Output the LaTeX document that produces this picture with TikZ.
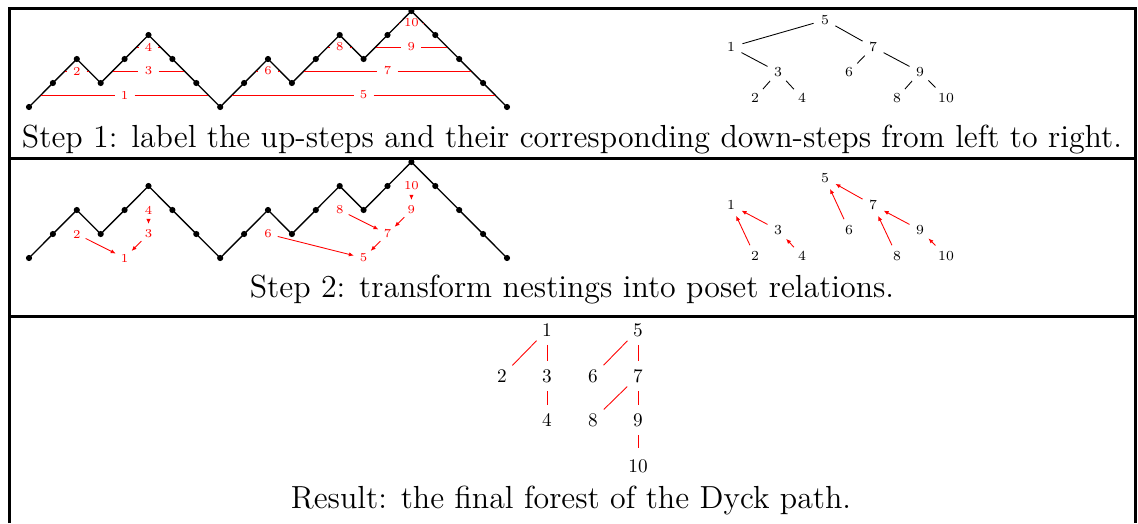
\documentclass[tikz,border=0pt]{standalone}
\usepackage{fontspec}
\newfontfamily\capfont{lmroman12-regular.otf}
\usetikzlibrary{calc,arrows.meta}

\begin{document}
\begin{tikzpicture}[x=0.52pt,y=-0.52pt,
    frame/.style={line width=1.56pt},
    dyck/.style={line width=0.7pt},
    arcline/.style={red, line width=0.45pt},
    lbl/.style={circle, inner sep=1.5pt, text=red, font=\fontsize{6.3}{7}\selectfont},
    tnum/.style={circle, inner sep=2pt, font=\fontsize{7.2}{8}\selectfont},
    rnum/.style={circle, inner sep=2.4pt, font=\fontsize{10}{12}\selectfont},
    rel/.style={red, line width=0.45pt, -{Latex[length=2.6pt,width=2.2pt]}},
    caption/.style={anchor=base, font=\capfont\fontsize{16.6}{19}\selectfont}]
  \useasboundingbox (0,0) rectangle (1138,523);

  % table rules
  \draw[frame] (9.5,523) -- (9.5,8) -- (1135.5,8) -- (1135.5,523);
  \draw[frame] (9.5,158) -- (1135.5,158);
  \draw[frame] (9.5,316) -- (1135.5,316);

  % the Dyck path, twice
  \foreach \h [count=\k from 0] in {0,1,2,1,2,3,2,1,0,1,2,1,2,3,2,3,4,3,2,1,0} {
    \coordinate (a\k) at (29+23.9*\k, 107-24*\h);
    \coordinate (b\k) at (29+23.9*\k, 258-24*\h);
  }
  \draw[dyck] (a0) \foreach \k in {1,...,20} { -- (a\k) };
  \draw[dyck] (b0) \foreach \k in {1,...,20} { -- (b\k) };
  \foreach \k in {0,...,20} {
    \fill (a\k) circle (1.6pt);
    \fill (b\k) circle (1.6pt);
  }
  \foreach \k [remember=\k as \j (initially 0)] in {1,...,20}
    \coordinate (m\k) at ($(a\j)!.5!(a\k)$);

  % step 1: up-steps and matching down-steps
  % step 2: labels moved down to the start of their up-step
  \foreach \i/\s/\t/\p in {1/1/8/0,2/2/3/1,3/4/7/3,4/5/6/4,5/9/20/8,
                           6/10/11/9,7/12/19/11,8/13/14/12,9/15/18/14,10/16/17/15} {
    \node[lbl] (la\i) at ($(m\s)!.5!(m\t)$) {\i};
    \draw[arcline] (m\s) -- (la\i) -- (m\t);
    \node[lbl] (lb\i) at (la\i |- b\p) {\i};
  }
  \foreach \c/\p in {2/1,3/1,4/3,6/5,7/5,8/7,9/7,10/9}
    \draw[rel] (lb\c) -- (lb\p);

  % trees on the right
  \foreach \n/\x/\y in {5/825/20,1/731/47,7/873/47,3/778/72,6/849/72,
                        9/920/72,2/755/98,4/802/98,8/897/98,10/946/98} {
    \node[tnum] (ta\n) at (\x,\y) {\n};
    \node[tnum] (tb\n) at (\x,\y+158) {\n};
  }
  \foreach \p/\c in {5/1,5/7,1/3,3/2,3/4,7/6,7/9,9/8,9/10}
    \draw[line width=0.45pt] (ta\p) -- (ta\c);
  \foreach \c/\p in {2/1,3/1,4/3,6/5,7/5,8/7,9/7,10/9}
    \draw[rel] (tb\c) -- (tb\p);

  % the forest
  \foreach \n/\x/\y in {1/547/330,5/638/330,2/502/376,3/547/376,6/593/376,
                        7/638/376,4/547/420,8/593/420,9/638/420,10/638/466}
    \node[rnum] (r\n) at (\x,\y) {\n};
  \foreach \p/\c in {1/2,1/3,3/4,5/6,5/7,7/8,7/9,9/10}
    \draw[arcline] (r\p) -- (r\c);

  \node[caption] (cap1) at (572,147) {Step 1: label the up-steps and their corresponding down-steps from left to right.};
  \node[caption] (cap2) at (572,297) {Step 2: transform nestings into poset relations.};
  \node[caption] (cap3) at (571,508) {Result: the final forest of the Dyck path.};
\end{tikzpicture}
\end{document}
